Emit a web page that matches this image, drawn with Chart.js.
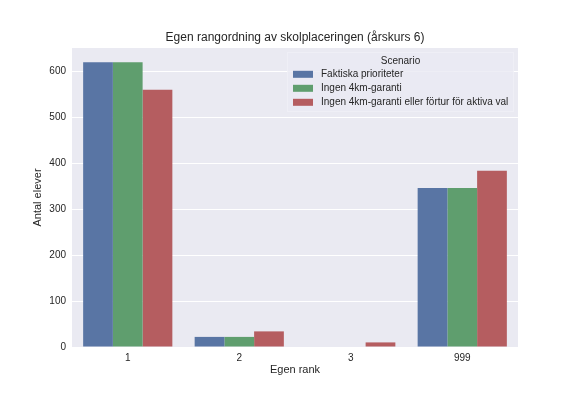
<!DOCTYPE html>
<html>
<head>
<meta charset="utf-8">
<script src="https://cdn.jsdelivr.net/npm/chart.js@4/dist/chart.umd.min.js"></script>
<style>
  html, body { margin: 0; padding: 0; background: #ffffff; }
  #c { display: block; }
</style>
</head>
<body>
<canvas id="c" width="576" height="396"></canvas>
<script>
const categories = ['1', '2', '3', '999'];
const faktiskaPrioriteter = [620, 22, 0, 346];
const ingen4kmGaranti = [620, 22, 0, 346];
const ingenFortur = [560, 34, 10, 384];
const seriesLabels = ['Faktiska prioriteter', 'Ingen 4km-garanti', 'Ingen 4km-garanti eller förtur för aktiva val'];
const yTicks = [0, 100, 200, 300, 400, 500, 600];

const titleText = 'Egen rangordning av skolplaceringen (årskurs 6)';
const xTitle = 'Egen rank';
const yTitle = 'Antal elever';
const legendTitle = 'Scenario';

const FONT = "'Liberation Sans', Arial, sans-serif";
const TXT = '#262626';
const colors = ['#5975A4', '#5F9E6E', '#B55D60'];

const decor = {
  id: 'decor',
  beforeDraw(chart) {
    const ctx = chart.ctx, a = chart.chartArea;
    ctx.save();
    ctx.fillStyle = '#EAEAF2';
    ctx.fillRect(a.left, a.top, a.right - a.left, a.bottom - a.top);
    ctx.restore();
  },
  afterDraw(chart) {
    const ctx = chart.ctx, a = chart.chartArea;
    ctx.save();
    ctx.fillStyle = TXT;
    ctx.textAlign = 'center';
    ctx.textBaseline = 'middle';
    ctx.font = '12px ' + FONT;
    ctx.fillText(titleText, (a.left + a.right) / 2, 38);
    ctx.font = '11px ' + FONT;
    ctx.fillText(xTitle, (a.left + a.right) / 2, 370);
    ctx.save();
    ctx.translate(38, (a.top + a.bottom) / 2);
    ctx.rotate(-Math.PI / 2);
    ctx.fillText(yTitle, 0, 0);
    ctx.restore();

    // legend
    const bx = 287, by = 52, bw = 227, bh = 60;
    ctx.fillStyle = 'rgba(234,234,242,0.8)';
    ctx.fillRect(bx, by, bw, bh);
    ctx.strokeStyle = 'rgba(255,255,255,0.25)';
    ctx.lineWidth = 1;
    ctx.strokeRect(bx + 0.5, by + 0.5, bw - 1, bh - 1);
    ctx.fillStyle = TXT;
    ctx.font = '10px ' + FONT;
    ctx.textAlign = 'center';
    ctx.fillText(legendTitle, bx + bw / 2, 61);
    ctx.textAlign = 'left';
    chart.data.datasets.forEach((ds, i) => {
      const y = 74.3 + i * 14;
      ctx.fillStyle = ds.backgroundColor;
      ctx.fillRect(293, y - 3.5, 20, 7);
      ctx.fillStyle = TXT;
      ctx.fillText(ds.label, 321, y);
    });
    ctx.restore();
  }
};

new Chart(document.getElementById('c'), {
  type: 'bar',
  data: {
    labels: categories,
    datasets: [
      { label: seriesLabels[0], data: faktiskaPrioriteter, backgroundColor: colors[0] },
      { label: seriesLabels[1], data: ingen4kmGaranti, backgroundColor: colors[1] },
      { label: seriesLabels[2], data: ingenFortur, backgroundColor: colors[2] }
    ]
  },
  options: {
    responsive: false,
    animation: false,
    devicePixelRatio: 1,
    layout: { padding: { left: 0, top: 48, right: 58, bottom: 0 } },
    datasets: { bar: { categoryPercentage: 0.8, barPercentage: 1.0, borderWidth: 0 } },
    plugins: { legend: { display: false }, title: { display: false }, tooltip: { enabled: false } },
    scales: {
      x: {
        grid: { display: false, drawTicks: false },
        border: { display: false },
        ticks: { color: TXT, font: { family: FONT, size: 10 }, padding: 5 },
        afterFit(s) { s.height = 49; }
      },
      y: {
        min: 0, max: 651,
        grid: { color: '#ffffff', lineWidth: 1, drawTicks: false },
        border: { display: false },
        ticks: { color: TXT, font: { family: FONT, size: 10 }, padding: 6, stepSize: 100, includeBounds: false },
        afterBuildTicks(s) { s.ticks = yTicks.map(v => ({ value: v })); },
        afterFit(s) { s.width = 72; }
      }
    }
  },
  plugins: [decor]
});
</script>
</body>
</html>
